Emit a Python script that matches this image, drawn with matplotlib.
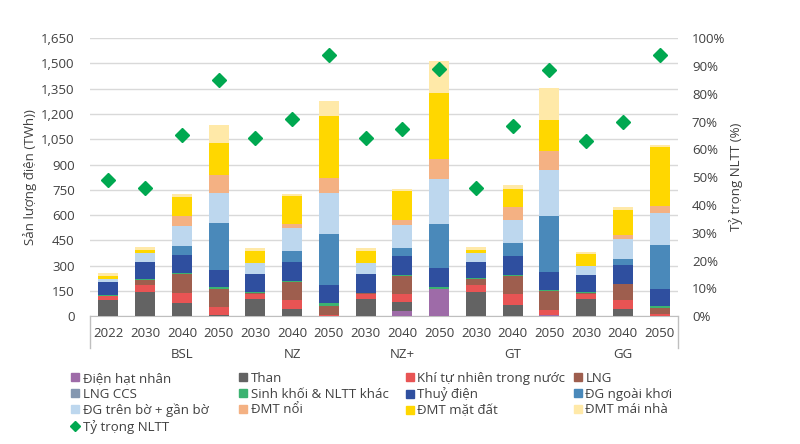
import numpy as np
import matplotlib
matplotlib.use('Agg')
import matplotlib.pyplot as plt
from matplotlib.lines import Line2D
from matplotlib.ticker import FuncFormatter, PercentFormatter
import matplotlib.transforms as mtransforms

plt.rcParams['font.family'] = ['Open Sans', 'DejaVu Sans']

# categories: scenario + year
YEARS = ['2022', '2030', '2040', '2050',
         '2030', '2040', '2050',
         '2030', '2040', '2050',
         '2030', '2040', '2050',
         '2030', '2040', '2050']
GROUPS = ['BSL', 'NZ', 'NZ+', 'GT', 'GG']
GROUP_CENTER = [2, 5, 8, 11, 14]

# TWh (bottom -> top of each stack)
nuclear  = [0, 0, 0, 0,     0, 0, 0,      0, 30, 162,   0, 0, 8,       0, 0, 0]
coal     = [95, 142, 75, 5, 101, 43, 0,   99, 53, 0,    142, 69, 0,    101, 43, 0]
gas      = [27, 40, 65, 50, 33, 52, 8,    33, 51, 0,    42, 65, 28,    33, 52, 12]
lng      = [0, 33, 109, 107, 3, 108, 51,  3, 107, 0,    37, 103, 114,  3, 93, 37]
lng_ccs  = [0, 0, 0, 0,     0, 0, 0,      0, 0, 0,      0, 0, 0,       0, 0, 0]
biomass  = [2, 6, 8, 10,    4, 8, 16,     4, 6, 12,     4, 8, 8,       5, 5, 10]
hydro    = [80, 99, 108, 104, 107, 111, 107, 109, 110, 110, 99, 112, 105, 101, 113, 103]
offshore = [0, 0, 50, 277,  0, 63, 308,   0, 48, 265,   0, 77, 329,    0, 35, 258]
onshore  = [14, 55, 122, 177, 67, 136, 238, 67, 134, 268, 53, 138, 277, 57, 117, 192]
floating = [0, 0, 59, 109,  0, 28, 91,    0, 31, 117,   0, 74, 110,    0, 26, 39]
ground   = [18, 16, 111, 191, 71, 164, 371, 69, 170, 389, 16, 108, 188, 67, 146, 352]
rooftop  = [18, 22, 19, 105, 18, 13, 85,  18, 16, 193,  20, 26, 187,   16, 15, 10]

# renewable share (%)
share = [49, 46, 65, 85, 64, 71, 94, 64, 67.5, 89, 46, 68.5, 88.5, 63, 70, 94]

series = [
    ('Điện hạt nhân', nuclear, '#9E6BA8'),
    ('Than', coal, '#636363'),
    ('Khí tự nhiên trong nước', gas, '#E85454'),
    ('LNG', lng, '#9E5E4E'),
    ('LNG CCS', lng_ccs, '#8497B0'),
    ('Sinh khối & NLTT khác', biomass, '#3CB371'),
    ('Thuỷ điện', hydro, '#2F4F9F'),
    ('ĐG ngoài khơi', offshore, '#4A89BA'),
    ('ĐG trên bờ + gần bờ', onshore, '#BDD7EE'),
    ('ĐMT nổi', floating, '#F4B183'),
    ('ĐMT mặt đất', ground, '#FFD700'),
    ('ĐMT mái nhà', rooftop, '#FFE9A8'),
]
SHARE_COLOR = '#00A850'
TEXT = '#404040'
GRID = '#D9D9D9'

fig = plt.figure(figsize=(8, 4.44), dpi=100)
ax = fig.add_axes([0.1125, 0.288, 0.735, 0.626])
ax2 = ax.twinx()

x = np.arange(len(YEARS))
bottom = np.zeros(len(YEARS))
for name, vals, col in series:
    vals = np.array(vals, dtype=float)
    ax.bar(x, vals, 0.55, bottom=bottom, color=col, label=name, zorder=3)
    bottom += vals

ax2.plot(x, np.array(share) / 100, linestyle='none', marker='D', markersize=7.5,
         color=SHARE_COLOR, zorder=4)

ax.set_xlim(-0.5, len(YEARS) - 0.5)
ax.set_ylim(0, 1650)
ax.set_yticks(np.arange(0, 1651, 150))
ax.yaxis.set_major_formatter(FuncFormatter(lambda v, p: f'{int(v):,}'))
ax.grid(axis='y', color=GRID, linewidth=1, zorder=0)
ax.set_axisbelow(True)
ax.set_xticks(x)
ax.set_xticklabels(YEARS)
ax.tick_params(axis='x', length=0, pad=8, labelsize=9.5, colors=TEXT)
ax.tick_params(axis='y', length=0, pad=11, labelsize=9.5, colors=TEXT)
ax.set_ylabel('Sản lượng điện (TWh))', fontsize=9.5, color=TEXT, labelpad=3)

ax2.set_ylim(0, 1)
ax2.set_yticks(np.arange(0, 1.01, 0.1))
ax2.yaxis.set_major_formatter(PercentFormatter(1, decimals=0))
ax2.tick_params(axis='y', length=0, pad=10, labelsize=9.5, colors=TEXT)
ax2.set_ylabel('Tỷ trọng NLTT (%)', fontsize=9.5, color=TEXT, labelpad=3)

for a in (ax, ax2):
    for s in a.spines.values():
        s.set_visible(False)
ax.spines['bottom'].set_visible(True)
ax.spines['bottom'].set_color('#BFBFBF')

# multi-level category axis: scenario names + edge lines
trans = mtransforms.blended_transform_factory(ax.transData, ax.transAxes)
for gx, g in zip(GROUP_CENTER, GROUPS):
    ax.text(gx, -0.138, g, transform=trans, ha='center', va='center',
            fontsize=9.5, color=TEXT)
for ex in (-0.5, len(YEARS) - 0.5):
    ax.plot([ex, ex], [0, -0.115], transform=trans, color='#BFBFBF',
            linewidth=1, clip_on=False)

# legend laid out like the original: 4 evenly spaced columns, row-major
handles = [Line2D([], [], linestyle='none', marker='s', markersize=6,
                  color=col, label=name) for name, _, col in series]
handles.append(Line2D([], [], linestyle='none', marker='D', markersize=5,
                      color=SHARE_COLOR, label='Tỷ trọng NLTT'))
col_x = [0.089, 0.299, 0.507, 0.717]
for c in range(4):
    hs = handles[c::4]
    fig.legend(handles=hs, loc='upper left', bbox_to_anchor=(col_x[c], 0.163),
               frameon=False, fontsize=9.5, handlelength=0.6,
               handletextpad=0.3, labelspacing=0.22, borderpad=0,
               borderaxespad=0, labelcolor=TEXT)

fig.savefig('out.png', dpi=100)
